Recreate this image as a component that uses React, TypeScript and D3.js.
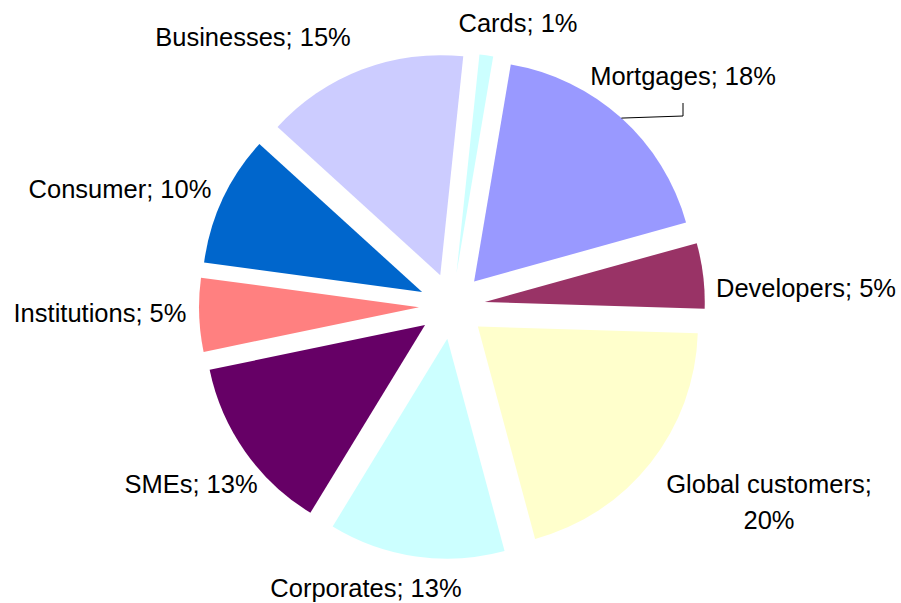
import React from 'react';
import * as d3 from 'd3';

// slice data, clockwise from the top
const categories = ['Cards', 'Mortgages', 'Developers', 'Global customers', 'Corporates', 'SMEs', 'Institutions', 'Consumer', 'Businesses'];
const shares = [1, 18, 4.8, 20.3, 12.9, 13, 5.4, 9.6, 14.9];
const colors = ['#CCFFFF', '#9999FF', '#993366', '#FFFFCC', '#CCFFFF', '#660066', '#FF8080', '#0066CC', '#CCCCFF'];

// label layout (hand placed like the excel chart)
const labelPos: [number, number][] = [
  [518, 32], [683, 85], [806, 297], [769, 493], [366, 597],
  [191, 493], [100, 322], [120, 198], [253, 46],
];

const W = 901;
const H = 603;
const cx = 452;
const cy = 306;
const radius = 220;
const explode = 33;
const startDeg = 6;

const App = () => {
  const pie = d3.pie<number>()
    .sort(null)
    .startAngle((startDeg * Math.PI) / 180)
    .endAngle(((startDeg + 360) * Math.PI) / 180);
  const arcs = pie(shares);
  const arc = d3.arc<d3.PieArcDatum<number>>().innerRadius(0).outerRadius(radius);

  const offset = (d: d3.PieArcDatum<number>, dist: number) => {
    const a = (d.startAngle + d.endAngle) / 2;
    return [Math.sin(a) * dist, -Math.cos(a) * dist];
  };

  // leader line for the Mortgages label
  const m = arcs[1];
  const [ox, oy] = offset(m, explode);
  const [ex, ey] = offset(m, radius);
  const leader = d3.line()([
    [cx + ox + ex, cy + oy + ey],
    [683, 116],
    [683, 103],
  ]);

  return (
    <svg width={W} height={H} style={{ position: 'absolute', left: 0, top: 0, background: '#fff' }}>
      <g>
        {arcs.map((d, i) => {
          const [dx, dy] = offset(d, explode);
          return (
            <path
              key={categories[i]}
              d={arc(d) || ''}
              transform={`translate(${cx + dx},${cy + dy})`}
              fill={colors[i]}
            />
          );
        })}
      </g>
      <path d={leader || ''} fill="none" stroke="#000" strokeWidth={1} />
      <g fontFamily="'Liberation Sans', Arial, sans-serif" fontSize={25.5} fill="#000" textAnchor="middle">
        {arcs.map((d, i) => {
          const [lx, ly] = labelPos[i];
          const pct = `${Math.round(shares[i])}%`;
          if (categories[i] === 'Global customers') {
            return (
              <text key={categories[i]} x={lx} y={ly}>
                <tspan x={lx}>{categories[i]};</tspan>
                <tspan x={lx} dy={36}>{pct}</tspan>
              </text>
            );
          }
          return (
            <text key={categories[i]} x={lx} y={ly}>
              {`${categories[i]}; ${pct}`}
            </text>
          );
        })}
      </g>
    </svg>
  );
};

export default App;
